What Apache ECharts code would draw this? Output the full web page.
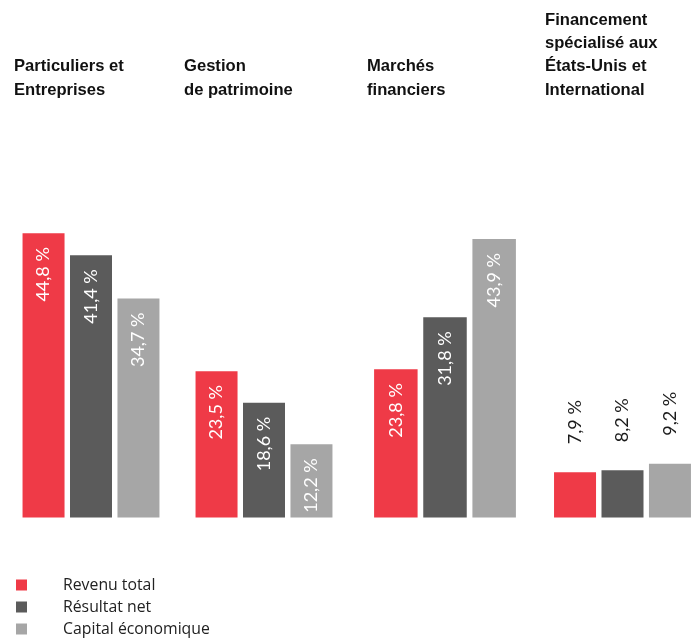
<!DOCTYPE html>
<html>
<head>
<meta charset="utf-8">
<script src="https://cdn.jsdelivr.net/npm/echarts@6/dist/echarts.min.js"></script>
<style>
  html, body { margin: 0; padding: 0; background: #fff; }
  #chart { width: 697px; height: 639px; }
</style>
</head>
<body>
<div id="chart"></div>
<script>
// Business segments and their share of each measure (%)
const segments = [
  'Particuliers et\nEntreprises',
  'Gestion\nde patrimoine',
  'Marchés\nfinanciers',
  'Financement\nspécialisé aux\nÉtats-Unis et\nInternational'
];
const seriesNames = ['Revenu total', 'Résultat net', 'Capital économique'];
const revenuTotal = [44.8, 23.5, 23.8, 7.9];
const resultatNet = [41.4, 18.6, 31.8, 8.2];
const capitalEconomique = [34.7, 12.2, 43.9, 9.2];

const seriesValues = [revenuTotal, resultatNet, capitalEconomique];
const colors = ['#EF3A47', '#5B5B5B', '#A6A6A6'];

// layout of each segment panel
const panelCenters = [91, 264, 445, 622.5];
const barWidths = [42, 42, 43.5, 42];
const titleLeft = [14, 184, 367, 545];
const lineH = 23.2;
const lastLineCenter = 90;

const fmt = v => v.toFixed(1).replace('.', ',') + ' %';

const grids = [], xAxes = [], yAxes = [], series = [], titles = [];

segments.forEach((seg, g) => {
  grids.push({ left: panelCenters[g] - 72, width: 144, top: 199.5, bottom: 121.5 });
  xAxes.push({
    type: 'category', gridIndex: g, data: [seg],
    axisLine: { show: false }, axisTick: { show: false }, axisLabel: { show: false }
  });
  yAxes.push({
    type: 'value', gridIndex: g, min: 0.9, max: 50,
    show: false, splitLine: { show: false }
  });
  const nLines = seg.split('\n').length;
  titles.push({
    text: seg,
    left: titleLeft[g],
    top: lastLineCenter - (nLines - 0.5) * lineH,
    padding: 0,
    textStyle: {
      fontFamily: '"Liberation Sans", Arial, sans-serif',
      fontWeight: 'bold', fontSize: 16.6, lineHeight: lineH, color: '#111'
    }
  });
  const outside = g === segments.length - 1;
  seriesValues.forEach((vals, s) => {
    series.push({
      type: 'bar', name: seriesNames[s],
      xAxisIndex: g, yAxisIndex: g,
      data: [vals[g]],
      barWidth: barWidths[g], barGap: '13%',
      itemStyle: { color: colors[s] },
      label: {
        show: true,
        formatter: p => fmt(p.value),
        rotate: 90,
        position: outside ? 'top' : 'insideTop',
        distance: outside ? 28 : 14,
        align: outside ? 'left' : 'right',
        verticalAlign: 'middle',
        color: outside ? '#1a1a1a' : '#fff',
        fontFamily: 'Lato, "Open Sans", sans-serif',
        fontSize: 18
      },
      emphasis: { disabled: true }
    });
  });
});

const chart = echarts.init(document.getElementById('chart'), null, { renderer: 'canvas' });
chart.setOption({
  animation: false,
  title: titles,
  grid: grids,
  xAxis: xAxes,
  yAxis: yAxes,
  series: series,
  legend: {
    data: seriesNames,
    orient: 'vertical',
    left: 16, top: 577,
    padding: 0,
    icon: 'rect',
    itemWidth: 11, itemHeight: 11, itemGap: 6,
    textStyle: {
      fontFamily: '"Open Sans", Lato, sans-serif',
      fontSize: 15.8, lineHeight: 16, color: '#222',
      padding: [0, 0, 0, 31]
    }
  }
});
</script>
</body>
</html>
